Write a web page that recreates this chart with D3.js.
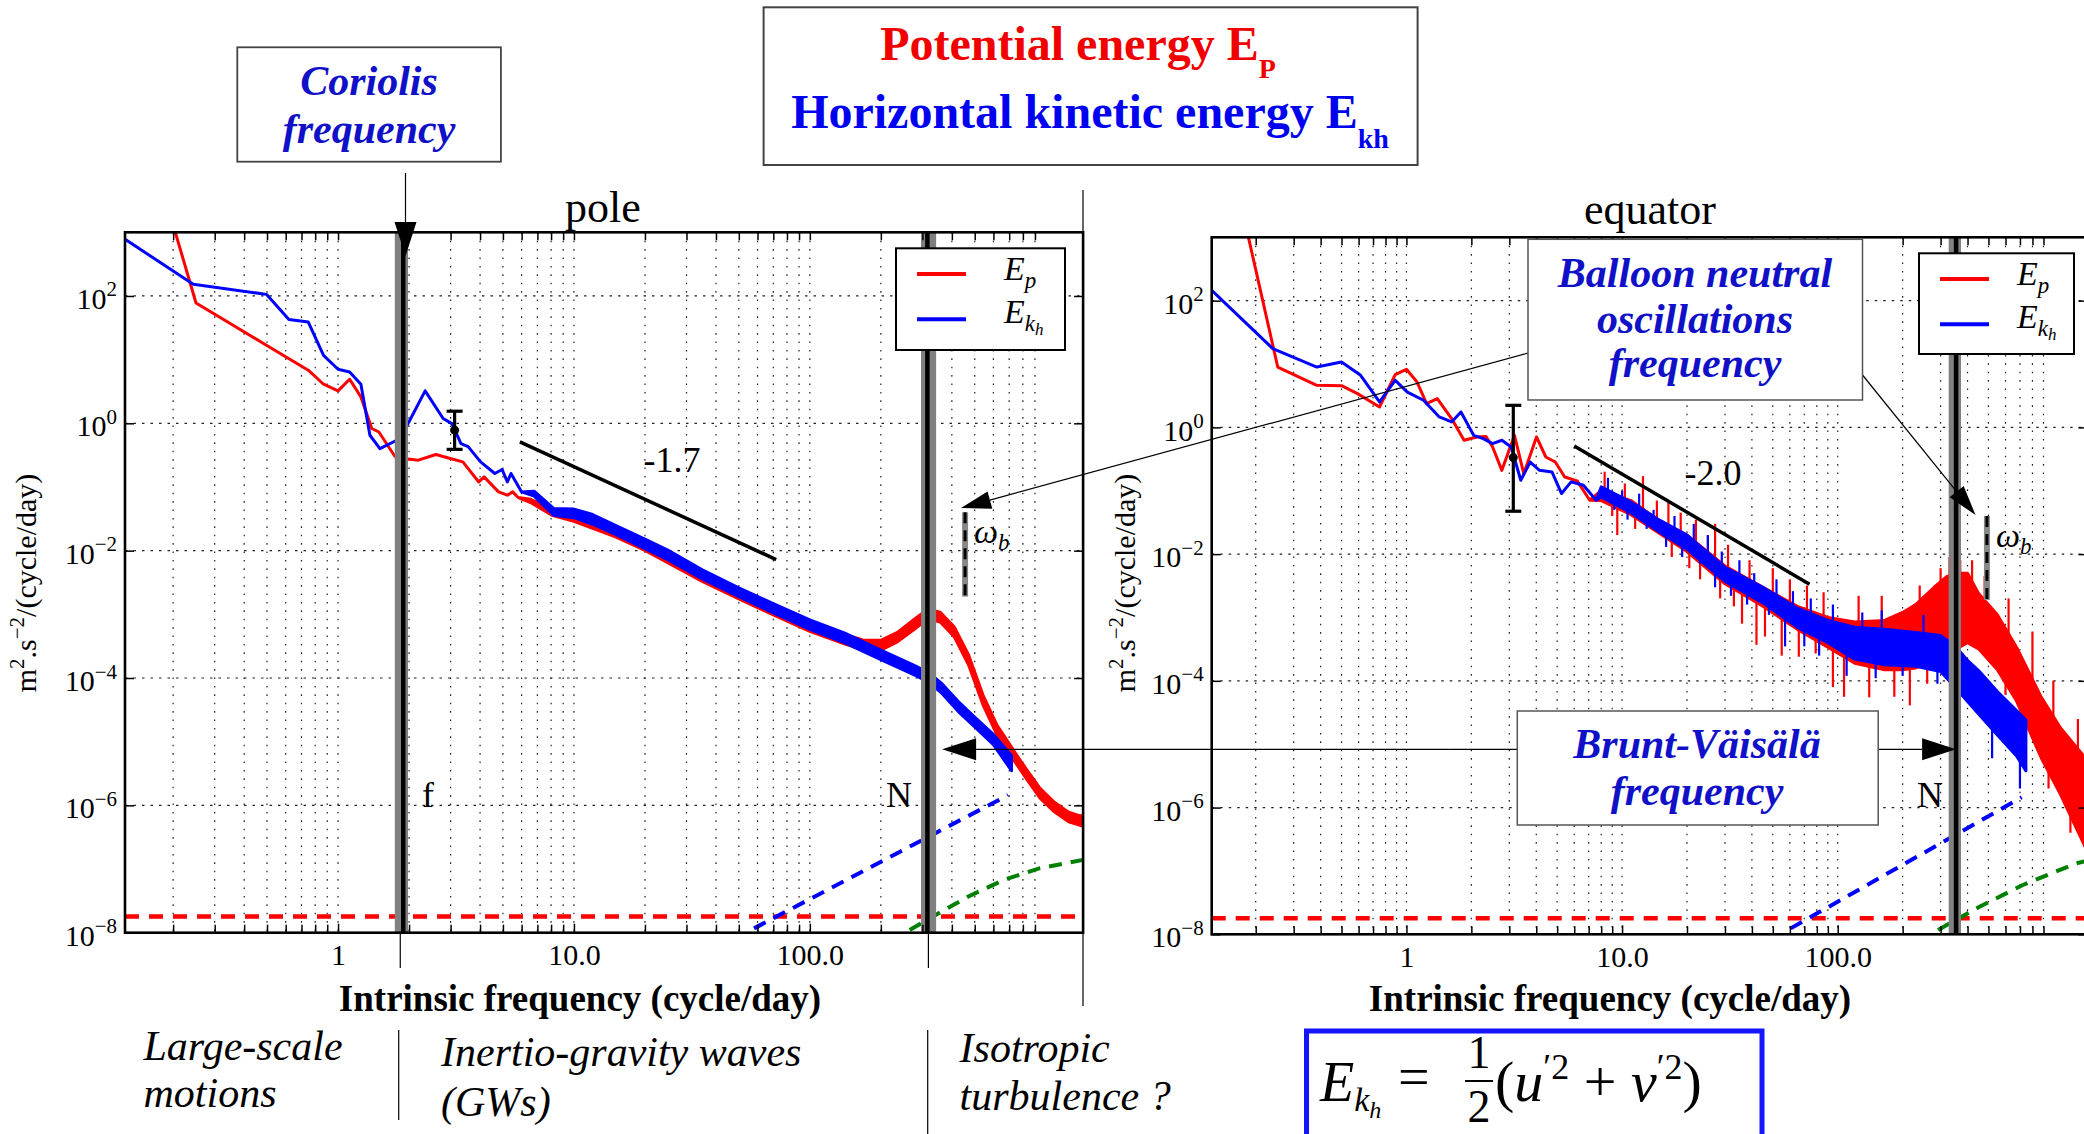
<!DOCTYPE html>
<html>
<head>
<meta charset="utf-8">
<script src="https://cdn.jsdelivr.net/npm/d3@7/dist/d3.min.js"></script>
<style>
  html, body { margin: 0; padding: 0; background: #fff; }
  svg { display: block; }
</style>
</head>
<body>
<svg id="chart" width="2084" height="1134"></svg>
<script>
// ---------------------------------------------------------------------------
// Data
// ---------------------------------------------------------------------------
const freqDomain = [0.125, 1440];            // intrinsic frequency, cycle/day
const energyDomain = [1e-8, 1e3];            // m^2 s^-2 / (cycle/day)
const xTickValues = [1, 10, 100];
const xTickLabels = ["1", "10.0", "100.0"];
const yTickExponents = [-8, -6, -4, -2, 0, 2];

// Spectra: [frequency, value] where the spectrum is a single line,
// [frequency, low, high] where the periodogram spreads into a noisy band.
const poleEp = [
  [0.19, 2500], [0.25, 77.6], [0.497, 16.8], [0.748, 6.82], [0.868, 4.11], [1.0, 3.23],
  [1.12, 4.92], [1.25, 2.6], [1.39, 0.83], [1.49, 0.73], [1.74, 0.304], [1.90, 0.28],
  [2.19, 0.264], [2.6, 0.324], [2.99, 0.28], [3.38, 0.248], [3.95, 0.12], [4.16, 0.144],
  [4.79, 0.0838], [5.22, 0.0743], [5.5, 0.0838], [5.8, 0.0684],
  [6.55, 0.057, 0.064], [8.07, 0.036, 0.045], [10, 0.029, 0.041], [15, 0.0165, 0.0235],
  [20, 0.0101, 0.0143], [35, 0.0033, 0.0047], [50, 0.00175, 0.0025], [70, 9.8e-4, 1.4e-3],
  [100, 5.4e-4, 7.8e-4], [140, 3.45e-4, 4.9e-4], [170, 2.75e-4, 3.9e-4], [200, 2.75e-4, 3.9e-4],
  [235, 3.7e-4, 5.2e-4], [280, 6.0e-4, 8.6e-4], [316, 8.5e-4, 1.2e-3], [357, 7.6e-4, 1.08e-3],
  [410, 4.4e-4, 6.3e-4], [471, 1.6e-4, 2.3e-4], [542, 3.8e-5, 5.4e-5], [622, 1.27e-5, 1.8e-5],
  [716, 5.8e-6, 8.2e-6], [823, 2.7e-6, 3.8e-6], [946, 1.3e-6, 1.85e-6], [1088, 7.9e-7, 1.12e-6],
  [1250, 5.5e-7, 7.8e-7], [1388, 4.9e-7, 6.9e-7], [1440, 4.7e-7, 6.8e-7]
];
const poleEkh = [
  [0.1256, 768], [0.2434, 153], [0.497, 106], [0.619, 42.6], [0.748, 39], [0.868, 11.7],
  [1.0, 7.07], [1.12, 6.41], [1.25, 4.11], [1.365, 0.65], [1.505, 0.40], [1.836, 0.577],
  [2.34, 3.23], [2.79, 1.19], [3.04, 0.99], [3.32, 0.48], [3.56, 0.43], [4.02, 0.248],
  [4.62, 0.163], [4.96, 0.188], [5.22, 0.12], [5.41, 0.163], [6.0, 0.0838],
  [6.78, 0.072, 0.086], [8.2, 0.036, 0.046], [10, 0.033, 0.045], [12, 0.026, 0.037],
  [15, 0.018, 0.025], [20, 0.0108, 0.0152], [25, 0.0072, 0.0102], [35, 0.0036, 0.0050],
  [50, 0.0019, 0.0026], [70, 1.05e-3, 1.48e-3], [100, 5.8e-4, 8.2e-4], [140, 3.6e-4, 5.1e-4],
  [200, 1.95e-4, 2.75e-4], [280, 1.1e-4, 1.55e-4], [320, 8.5e-5, 1.2e-4], [360, 5.9e-5, 8.4e-5],
  [425, 3.0e-5, 4.3e-5], [505, 1.65e-5, 2.35e-5], [600, 9e-6, 1.3e-5], [716, 3.5e-6, 6e-6]
];
const equatorEp = [
  [0.172, 3000], [0.253, 8.97], [0.384, 4.61], [0.5, 4.55], [0.593, 3.41], [0.75, 2.1],
  [0.887, 6.8], [1.0, 8.25], [1.12, 5.2], [1.24, 2.37], [1.39, 2.85], [1.62, 1.38],
  [1.85, 0.626], [2.12, 0.706], [2.34, 0.72], [2.51, 0.49], [2.77, 0.21], [3.17, 0.75],
  [3.5, 0.186], [4.01, 0.706], [4.43, 0.341], [4.9, 0.284], [5.42, 0.165], [6.19, 0.143],
  [7.08, 0.0708],
  [8, 0.07, 0.1], [11, 0.042, 0.07], [15, 0.021, 0.033], [20, 0.011, 0.02], [30, 3.4e-3, 6.5e-3],
  [45, 1.5e-3, 3e-3], [65, 6.5e-4, 1.5e-3], [90, 3.4e-4, 1e-3], [120, 1.9e-4, 8.5e-4],
  [165, 1.5e-4, 9e-4], [200, 1.5e-4, 1.2e-3], [230, 1.6e-4, 1.6e-3], [280, 2e-4, 3e-3],
  [320, 2.5e-4, 4.4e-3], [355, 3.2e-4, 5e-3], [400, 4e-4, 5e-3], [450, 3.2e-4, 2.4e-3],
  [550, 1.5e-4, 1.1e-3], [675, 4.8e-5, 3.4e-4], [880, 6e-6, 5.5e-5], [1080, 1.6e-6, 1.8e-5],
  [1440, 2e-7, 5.5e-6]
];
const equatorEkh = [
  [0.125, 145], [0.24, 17.5], [0.384, 8.97], [0.50, 10.8], [0.613, 6.64], [0.75, 2.52],
  [0.887, 5.53], [1.01, 3.61], [1.2, 2.68], [1.42, 1.46], [1.62, 1.22], [1.79, 1.75],
  [2.05, 0.75], [2.27, 0.665], [2.51, 0.555], [2.77, 0.626], [3.06, 0.49], [3.39, 0.1465],
  [3.75, 0.284], [4.14, 0.21], [4.73, 0.198], [5.24, 0.0904], [5.8, 0.138], [6.62, 0.122],
  [7.58, 0.0708],
  [8, 0.08, 0.115], [11, 0.045, 0.066], [15, 0.022, 0.034], [20, 0.012, 0.02], [30, 3.7e-3, 6.2e-3],
  [45, 1.7e-3, 3e-3], [65, 7e-4, 1.4e-3], [90, 4e-4, 9e-4], [120, 2.2e-4, 7e-4],
  [165, 1.8e-4, 6.5e-4], [230, 1.7e-4, 5.8e-4], [300, 1.4e-4, 5.2e-4], [355, 7.5e-5, 3.4e-4],
  [400, 4.7e-5, 2.1e-4], [450, 3e-5, 1.45e-4], [550, 1.4e-5, 6.8e-5], [675, 6.5e-6, 3.4e-5],
  [746, 3.8e-6, 2.4e-5]
];
// Isolated spikes of the equatorial periodograms: [frequency, extreme value]
const equatorEpSpikes = [
  [8.3, 0.2], [9, 0.04], [9.5, 0.02], [10.3, 0.13], [11.5, 0.025], [12.5, 0.17], [13.5, 0.03],
  [14.5, 0.07], [16.4, 0.07], [17, 0.009], [18.7, 0.045], [20.5, 6e-3], [22, 0.035], [23, 0.004],
  [25, 0.02], [27, 0.03], [28.5, 2e-3], [31, 0.014], [33, 1.5e-3], [36, 8e-4], [39, 8e-3],
  [42, 3.7e-4], [46, 5e-4], [50, 6e-3], [55, 2.5e-4], [60, 4e-3], [66, 2.4e-4], [72, 3.2e-3],
  [79, 2.7e-4], [86, 2.5e-3], [95, 8e-5], [107, 5.6e-5], [125, 2.2e-3], [140, 5.5e-5],
  [160, 2.2e-3], [183, 5.6e-5], [216, 4.1e-5], [240, 3.2e-3], [260, 9e-5], [300, 6e-3],
  [330, 9e-3], [370, 8e-3], [420, 8e-3], [480, 4.5e-3], [600, 6e-5], [620, 2e-3],
  [760, 2e-5], [800, 6e-4], [950, 2e-6], [1000, 1e-4], [1200, 4e-7], [1300, 2.5e-5]
];
const equatorEkhSpikes = [
  [8.6, 0.16], [9.2, 0.05], [10, 0.1], [10.6, 0.035], [12, 0.09], [13, 0.025], [14, 0.05],
  [16, 0.013], [17.5, 0.04], [19, 0.009], [21.5, 0.03], [23, 0.007], [25, 0.02], [27, 3e-3],
  [29, 0.011], [32, 2.2e-3], [35, 8e-3], [38, 1.6e-3], [41, 5e-3], [48, 1.1e-3], [52, 4e-3],
  [57, 3.5e-4], [62, 2.6e-3], [70, 3.5e-4], [75, 2e-3], [82, 2.5e-4], [95, 1.6e-3],
  [110, 1.2e-4], [130, 1.2e-3], [150, 1.1e-4], [160, 1.3e-3], [200, 1.2e-4], [250, 1.1e-3],
  [290, 9e-5], [520, 6e-6], [700, 2e-6]
];

// Instrumental noise levels
const epNoiseFloor = 1.8e-8;
const poleEkhNoise = [[58, 1.17e-8], [692, 1.45e-6]];
const poleWNoise = [[265, 1.1e-8], [331, 1.78e-8], [470, 3.7e-8], [667, 6.8e-8], [945, 1.03e-7], [1420, 1.38e-7], [1440, 1.4e-7]];
const equatorEkhNoise = [[60.5, 1.24e-8], [713, 1.45e-6]];
const equatorWNoise = [[292, 1.17e-8], [452, 2.7e-8], [722, 6e-8], [1276, 1.32e-7], [1440, 1.45e-7]];

// Characteristic frequencies (cycle/day)
const poleCoriolis = { value: 1.89, band: [1.74, 1.98] };
const poleBruntVaisala = { value: 315, band: [296, 343] };
const equatorBruntVaisala = { value: 354, band: [327, 373] };
const poleOmegaB = 455;
const equatorOmegaB = 492;
const omegaBRange = [0.0019, 0.04];

// Power-law fits
const poleFit = { slope: -1.7, from: [5.9, 0.51], to: 72 };
const equatorFit = { slope: -2.0, from: [6.0, 0.51], to: 74 };

// Confidence intervals
const poleErrorBar = { freq: 3.12, value: 0.78, low: 0.39, high: 1.55 };
const equatorErrorBar = { freq: 3.13, value: 0.334, low: 0.0475, high: 2.23 };

// ---------------------------------------------------------------------------
// Drawing
// ---------------------------------------------------------------------------
const SERIF = "'Liberation Serif', 'Times New Roman', serif";
const RED = "#ff0000", BLUE = "#0000ff", GREEN = "#008000", ANNOT = "#1010c8";
const svg = d3.select("#chart");
const defs = svg.append("defs");

const minorTicks = [];
for (let e = -1; e <= 2; e++) {
  for (let m = 2; m <= 9; m++) {
    const v = m * Math.pow(10, e);
    if (v > freqDomain[0] && v < freqDomain[1]) minorTicks.push(v);
  }
}
const yTickValues = yTickExponents.map(e => Math.pow(10, e));

function bandCenterAt(series, f) {
  for (let i = 0; i < series.length - 1; i++) {
    const a = series[i], b = series[i + 1];
    if (f >= a[0] && f <= b[0]) {
      const ca = Math.sqrt(a[1] * (a[2] ?? a[1]));
      const cb = Math.sqrt(b[1] * (b[2] ?? b[1]));
      const t = Math.log(f / a[0]) / Math.log(b[0] / a[0]);
      return Math.exp(Math.log(ca) + t * Math.log(cb / ca));
    }
  }
  return null;
}

function arrow(g, x1, y1, x2, y2, len, half, width) {
  const dx = x2 - x1, dy = y2 - y1, L = Math.hypot(dx, dy);
  const ux = dx / L, uy = dy / L;
  const bx = x2 - ux * len, by = y2 - uy * len;
  g.append("line").attr("x1", x1).attr("y1", y1).attr("x2", bx).attr("y2", by)
    .attr("stroke", "#000").attr("stroke-width", width || 1.3);
  g.append("path")
    .attr("d", `M${x2},${y2}L${bx - uy * half},${by + ux * half}L${bx + uy * half},${by - ux * half}Z`)
    .attr("fill", "#000");
}

function drawPanel(p) {
  const x = d3.scaleLog().domain(freqDomain).range([p.left, p.right]);
  const y = d3.scaleLog().domain(energyDomain).range([p.bottom, p.top]);
  const g = svg.append("g");
  const clipId = "clip-" + p.key;
  defs.append("clipPath").attr("id", clipId).append("rect")
    .attr("x", p.left).attr("y", p.top).attr("width", p.right - p.left).attr("height", p.bottom - p.top);

  // grid
  const grid = g.append("g").attr("stroke", "#222").attr("stroke-width", 1.2);
  grid.selectAll("line.gx").data(minorTicks.concat(xTickValues)).join("line")
    .attr("x1", d => x(d)).attr("x2", d => x(d)).attr("y1", p.top).attr("y2", p.bottom)
    .attr("stroke-dasharray", "1.6,6.8");
  grid.selectAll("line.gy").data(yTickValues.slice(1)).join("line")
    .attr("x1", p.left).attr("x2", p.right).attr("y1", d => y(d)).attr("y2", d => y(d))
    .attr("stroke-dasharray", "2.5,6");

  const plot = g.append("g").attr("clip-path", `url(#${clipId})`);
  const line = d3.line().x(d => x(d[0])).y(d => y(d[1]));

  // noise levels
  plot.append("line").attr("x1", p.left).attr("x2", p.right)
    .attr("y1", y(epNoiseFloor)).attr("y2", y(epNoiseFloor))
    .attr("stroke", RED).attr("stroke-width", 4.5).attr("stroke-dasharray", "14,10");
  plot.append("path").attr("d", line(p.ekhNoise)).attr("fill", "none")
    .attr("stroke", BLUE).attr("stroke-width", 4).attr("stroke-dasharray", "13,9");
  plot.append("path").attr("d", line(p.wNoise)).attr("fill", "none")
    .attr("stroke", GREEN).attr("stroke-width", 4).attr("stroke-dasharray", "13,9");

  // spectra
  const area = d3.area().x(d => x(d[0])).y0(d => y(d[1])).y1(d => y(d[2] ?? d[1]));
  const series = [
    { data: p.ep, spikes: p.epSpikes, color: RED },
    { data: p.ekh, spikes: p.ekhSpikes, color: BLUE }
  ];
  series.forEach(s => {
    plot.append("path").datum(s.data).attr("d", area)
      .attr("fill", s.color).attr("stroke", s.color).attr("stroke-width", 3)
      .attr("stroke-linejoin", "round");
    plot.selectAll(null).data(s.spikes).join("line")
      .attr("x1", d => x(d[0])).attr("x2", d => x(d[0]))
      .attr("y1", d => y(bandCenterAt(s.data, d[0]))).attr("y2", d => y(d[1]))
      .attr("stroke", s.color).attr("stroke-width", 2.2);
  });

  // characteristic frequencies
  p.markers.forEach(m => {
    plot.append("rect").attr("x", x(m.band[0])).attr("y", p.top)
      .attr("width", x(m.band[1]) - x(m.band[0])).attr("height", p.bottom - p.top)
      .attr("fill", "#808080");
    plot.append("line").attr("x1", x(m.value)).attr("x2", x(m.value))
      .attr("y1", p.top).attr("y2", p.bottom).attr("stroke", "#000").attr("stroke-width", 4.5);
  });

  // power-law fit
  const fitEnd = p.fit.from[1] * Math.pow(p.fit.to / p.fit.from[0], p.fit.slope);
  plot.append("line").attr("x1", x(p.fit.from[0])).attr("y1", y(p.fit.from[1]))
    .attr("x2", x(p.fit.to)).attr("y2", y(fitEnd)).attr("stroke", "#000").attr("stroke-width", 3.5);
  g.append("text").attr("x", p.fitLabel[0]).attr("y", p.fitLabel[1]).attr("text-anchor", "middle")
    .attr("font-family", SERIF).attr("font-size", 36).text(p.fit.slope.toFixed(1));

  // confidence interval
  const eb = p.errorBar, ex = x(eb.freq);
  const ebG = plot.append("g").attr("stroke", "#000").attr("stroke-width", 3.2);
  ebG.append("line").attr("x1", ex).attr("x2", ex).attr("y1", y(eb.low)).attr("y2", y(eb.high));
  ebG.append("line").attr("x1", ex - 8).attr("x2", ex + 8).attr("y1", y(eb.low)).attr("y2", y(eb.low));
  ebG.append("line").attr("x1", ex - 8).attr("x2", ex + 8).attr("y1", y(eb.high)).attr("y2", y(eb.high));
  plot.append("circle").attr("cx", ex).attr("cy", y(eb.value)).attr("r", 4.5).attr("fill", "#000");

  // balloon neutral oscillation marker
  const wx = x(p.omegaB);
  plot.append("line").attr("x1", wx).attr("x2", wx).attr("y1", y(omegaBRange[1])).attr("y2", y(omegaBRange[0]))
    .attr("stroke", "#888").attr("stroke-width", 6);
  plot.append("line").attr("x1", wx).attr("x2", wx).attr("y1", y(omegaBRange[1])).attr("y2", y(omegaBRange[0]))
    .attr("stroke", "#000").attr("stroke-width", 3).attr("stroke-dasharray", "11,7");
  const wl = g.append("text").attr("x", wx + 9).attr("y", y(omegaBRange[1]) + 31)
    .attr("font-family", SERIF).attr("font-style", "italic").attr("font-size", 34);
  wl.append("tspan").text("\u03C9");
  wl.append("tspan").attr("font-size", 23).attr("dy", 7).text("b");

  // axes
  const axisStyle = sel => {
    sel.select(".domain").remove();
    sel.attr("font-family", SERIF).attr("font-size", 30).attr("color", "#000");
    sel.selectAll(".tick line").attr("stroke-width", 1.5);
  };
  g.append("g").attr("transform", `translate(0,${p.bottom})`)
    .call(d3.axisBottom(x).tickValues(xTickValues).tickFormat((d, i) => xTickLabels[i])
      .tickSizeInner(-9).tickSizeOuter(0).tickPadding(11)).call(axisStyle);
  g.append("g").attr("transform", `translate(0,${p.bottom})`)
    .call(d3.axisBottom(x).tickValues(minorTicks).tickFormat("").tickSizeInner(-8).tickSizeOuter(0)).call(axisStyle);
  g.append("g").attr("transform", `translate(0,${p.top})`)
    .call(d3.axisTop(x).tickValues(minorTicks.concat(xTickValues)).tickFormat("").tickSizeInner(-8).tickSizeOuter(0)).call(axisStyle);
  const ya = g.append("g").attr("transform", `translate(${p.left},0)`)
    .call(d3.axisLeft(y).tickValues(yTickValues).tickFormat("").tickSizeInner(-9).tickSizeOuter(0).tickPadding(8))
    .call(axisStyle);
  ya.selectAll(".tick text").each(function (d) {
    const t = d3.select(this);
    const e = Math.round(Math.log10(d));
    t.text(null).attr("dy", "0.42em");
    t.append("tspan").text("10");
    t.append("tspan").attr("font-size", 21).attr("dy", "-0.6em").text(e < 0 ? "\u2212" + (-e) : String(e));
  });
  g.append("g").attr("transform", `translate(${p.right},0)`)
    .call(d3.axisRight(y).tickValues(yTickValues).tickFormat("").tickSizeInner(-9).tickSizeOuter(0))
    .call(axisStyle);
  g.append("rect").attr("x", p.left).attr("y", p.top).attr("width", p.right - p.left)
    .attr("height", p.bottom - p.top).attr("fill", "none").attr("stroke", "#000").attr("stroke-width", 2.6);

  // axis titles
  g.append("text").attr("x", p.titleX).attr("y", p.titleY).attr("text-anchor", "middle")
    .attr("font-family", SERIF).attr("font-size", 44).text(p.title);
  g.append("text").attr("x", p.xTitleX).attr("y", 1011).attr("text-anchor", "middle")
    .attr("font-family", SERIF).attr("font-weight", "bold").attr("font-size", 37)
    .text("Intrinsic frequency (cycle/day)");
  const yl = g.append("text").attr("transform", `translate(${p.yTitleX},583) rotate(-90)`)
    .attr("text-anchor", "middle").attr("font-family", SERIF).attr("font-size", 30);
  yl.append("tspan").text("m");
  yl.append("tspan").attr("font-size", 21).attr("dy", -12).text("2");
  yl.append("tspan").attr("dy", 12).text(".s");
  yl.append("tspan").attr("font-size", 21).attr("dy", -12).text("\u22122");
  yl.append("tspan").attr("dy", 12).text("/(cycle/day)");

  // frequency labels
  p.markerLabels.forEach(l => {
    g.append("text").attr("x", l.x).attr("y", 806.7).attr("text-anchor", "middle")
      .attr("font-family", SERIF).attr("font-size", 36).text(l.text);
  });

  // legend
  const lg = g.append("g").attr("transform", `translate(${p.legend.x},${p.legend.y})`);
  lg.append("rect").attr("width", p.legend.w).attr("height", p.legend.h)
    .attr("fill", "#fff").attr("stroke", "#000").attr("stroke-width", 2);
  [[RED, 25.7], [BLUE, 71]].forEach(([c, yy]) => {
    lg.append("line").attr("x1", 21).attr("x2", 70).attr("y1", yy).attr("y2", yy)
      .attr("stroke", c).attr("stroke-width", 4);
  });
  const le1 = lg.append("text").attr("x", p.legend.textX).attr("y", 32)
    .attr("font-family", SERIF).attr("font-style", "italic").attr("font-size", 34);
  le1.append("tspan").text("E");
  le1.append("tspan").attr("font-size", 23).attr("dy", 8).text("p");
  const le2 = lg.append("text").attr("x", p.legend.textX).attr("y", 75)
    .attr("font-family", SERIF).attr("font-style", "italic").attr("font-size", 34);
  le2.append("tspan").text("E");
  le2.append("tspan").attr("font-size", 23).attr("dy", 8).text("k");
  le2.append("tspan").attr("font-size", 17).attr("dy", 4).text("h");

  return { x, y };
}

const pole = drawPanel({
  key: "pole", title: "pole", left: 125, right: 1083.1, top: 232.3, bottom: 932.7,
  titleX: 603, titleY: 222, xTitleX: 580, yTitleX: 36,
  ep: poleEp, ekh: poleEkh, epSpikes: [], ekhSpikes: [],
  ekhNoise: poleEkhNoise, wNoise: poleWNoise,
  markers: [poleCoriolis, poleBruntVaisala],
  markerLabels: [{ text: "f", x: 428 }, { text: "N", x: 899 }],
  fit: poleFit, fitLabel: [672, 471.7], errorBar: poleErrorBar, omegaB: poleOmegaB,
  legend: { x: 896, y: 248.3, w: 169, h: 101.7, textX: 108 }
});
const equator = drawPanel({
  key: "equator", title: "equator", left: 1211.7, right: 2087.5, top: 237.3, bottom: 934.3,
  titleX: 1650, titleY: 224, xTitleX: 1610, yTitleX: 1134.5,
  ep: equatorEp, ekh: equatorEkh, epSpikes: equatorEpSpikes, ekhSpikes: equatorEkhSpikes,
  ekhNoise: equatorEkhNoise, wNoise: equatorWNoise,
  markers: [equatorBruntVaisala],
  markerLabels: [{ text: "N", x: 1930 }],
  fit: equatorFit, fitLabel: [1713, 485], errorBar: equatorErrorBar, omegaB: equatorOmegaB,
  legend: { x: 1919, y: 253.3, w: 155, h: 100.7, textX: 98 }
});

// ---------------------------------------------------------------------------
// Annotations
// ---------------------------------------------------------------------------
const ann = svg.append("g");
const thin = (x1, y1, x2, y2) => ann.append("line").attr("x1", x1).attr("y1", y1)
  .attr("x2", x2).attr("y2", y2).attr("stroke", "#000").attr("stroke-width", 1.2);

// regime separators
thin(pole.x(poleCoriolis.value) - 3, 933, pole.x(poleCoriolis.value) - 3, 968);
thin(pole.x(poleBruntVaisala.value) + 1, 933, pole.x(poleBruntVaisala.value) + 1, 968);
thin(1083, 190, 1083, 1006);
thin(398.7, 1030, 398.7, 1120);
thin(927.7, 1030, 927.7, 1134);

function box(x, y, w, h, stroke, sw) {
  ann.append("rect").attr("x", x).attr("y", y).attr("width", w).attr("height", h)
    .attr("fill", "#fff").attr("stroke", stroke).attr("stroke-width", sw);
}
function annText(lines, cx, size, color) {
  lines.forEach(([t, yy]) => {
    ann.append("text").attr("x", cx).attr("y", yy).attr("text-anchor", "middle")
      .attr("font-family", SERIF).attr("font-weight", "bold").attr("font-style", "italic")
      .attr("font-size", size).attr("fill", color).text(t);
  });
}

// title box
box(763.6, 7.3, 654, 157.7, "#444", 2);
const t1 = ann.append("text").attr("x", 1078).attr("y", 60).attr("text-anchor", "middle")
  .attr("font-family", SERIF).attr("font-weight", "bold").attr("font-size", 48).attr("fill", "#f00000");
t1.append("tspan").text("Potential energy E");
t1.append("tspan").attr("font-size", 28).attr("dy", 18).text("P");
const t2 = ann.append("text").attr("x", 1090).attr("y", 128).attr("text-anchor", "middle")
  .attr("font-family", SERIF).attr("font-weight", "bold").attr("font-size", 48).attr("fill", "#0000f0");
t2.append("tspan").text("Horizontal kinetic energy E");
t2.append("tspan").attr("font-size", 28).attr("dy", 20).text("kh");

// Coriolis frequency
box(237.3, 47.3, 263.6, 114.4, "#444", 1.8);
annText([["Coriolis", 95], ["frequency", 143]], 369, 42, ANNOT);
arrow(ann, 405.5, 173, 405.5, 256, 34, 11, 1.2);

// balloon neutral oscillations frequency
arrow(ann, 1528, 353, 961, 508, 30, 9, 1.2);
arrow(ann, 1862.5, 375, 1975.5, 515, 30, 9, 1.2);
box(1528, 239.3, 334.5, 160.7, "#555", 1.5);
annText([["Balloon neutral", 286.7], ["oscillations", 333], ["frequency", 376.7]], 1695, 42, ANNOT);

// Brunt-Väisälä frequency
const bvLeft = pole.x(poleBruntVaisala.band[1]) + 6;
const bvRight = equator.x(equatorBruntVaisala.value);
const bvMid = (bvLeft + bvRight) / 2;
arrow(ann, bvMid, 749.3, bvLeft, 749.3, 34, 11, 1.2);
arrow(ann, bvMid, 749.3, bvRight, 749.3, 34, 11, 1.2);
box(1517.3, 711, 360.9, 114, "#555", 1.5);
annText([["Brunt-V\u00e4is\u00e4l\u00e4", 758.3], ["frequency", 805]], 1697, 42, ANNOT);

// regimes
const regime = (t, xx, yy) => ann.append("text").attr("x", xx).attr("y", yy)
  .attr("font-family", SERIF).attr("font-style", "italic").attr("font-size", 42).text(t);
regime("Large-scale", 143.5, 1060);
regime("motions", 143.5, 1107);
regime("Inertio-gravity waves", 441, 1066);
regime("(GWs)", 441, 1116);
regime("Isotropic", 959.6, 1062);
regime("turbulence ?", 959.6, 1110);

// kinetic energy definition
box(1306.5, 1031, 455.5, 115, "#1515ff", 5);
const fE = ann.append("text").attr("x", 1320).attr("y", 1101)
  .attr("font-family", SERIF).attr("font-style", "italic").attr("font-size", 56);
fE.append("tspan").text("E");
fE.append("tspan").attr("font-size", 34).attr("dy", 10).text("k");
fE.append("tspan").attr("font-size", 24).attr("dy", 7).text("h");
ann.append("text").attr("x", 1398).attr("y", 1096).attr("font-family", SERIF).attr("font-size", 56).text("=");
ann.append("text").attr("x", 1479).attr("y", 1068).attr("text-anchor", "middle")
  .attr("font-family", SERIF).attr("font-size", 46).text("1");
ann.append("line").attr("x1", 1465).attr("x2", 1493).attr("y1", 1081).attr("y2", 1081)
  .attr("stroke", "#000").attr("stroke-width", 2);
ann.append("text").attr("x", 1479).attr("y", 1122).attr("text-anchor", "middle")
  .attr("font-family", SERIF).attr("font-size", 46).text("2");
const fR = ann.append("text").attr("x", 1495).attr("y", 1101)
  .attr("font-family", SERIF).attr("font-size", 58);
fR.append("tspan").text("(");
fR.append("tspan").attr("font-style", "italic").text("u");
fR.append("tspan").attr("font-size", 36).attr("dy", -22).text("\u20322");
fR.append("tspan").attr("dy", 22).text(" + ");
fR.append("tspan").attr("font-style", "italic").text("v");
fR.append("tspan").attr("font-size", 36).attr("dy", -22).text("\u20322");
fR.append("tspan").attr("dy", 22).text(")");
</script>
</body>
</html>
